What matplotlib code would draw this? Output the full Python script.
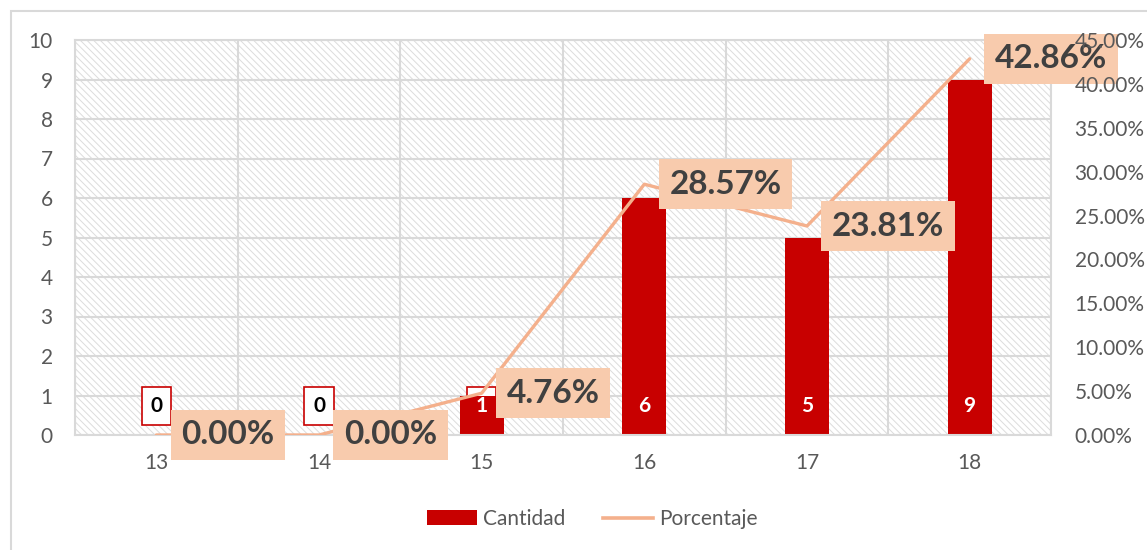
import matplotlib
matplotlib.use("Agg")
import matplotlib.pyplot as plt
from matplotlib.patches import Rectangle
from matplotlib.lines import Line2D
from matplotlib.patches import Patch
import numpy as np

categories = ["13", "14", "15", "16", "17", "18"]
cantidad = [0, 0, 1, 6, 5, 9]
porcentaje = [0.0, 0.0, 4.76, 28.57, 23.81, 42.86]
left_ticks = list(range(0, 11))
right_ticks = [0, 5, 10, 15, 20, 25, 30, 35, 40, 45]

FONT = "Lato"
plt.rcParams["font.family"] = [FONT, "DejaVu Sans"]
plt.rcParams["hatch.color"] = "#dcdcdc"
plt.rcParams["hatch.linewidth"] = 0.7

BAR = "#c80000"
LINE = "#f4b08c"
LBLBOX = "#f8cbad"
GRID = "#d9d9d9"
TICK = "#595959"

fig = plt.figure(figsize=(11.47, 5.5), dpi=100)
fig.patches.append(Rectangle((11 / 1147, -0.1), 1.2, (1 - 11 / 550) + 0.1,
                             transform=fig.transFigure, fill=False,
                             edgecolor=GRID, lw=1.5))

ax = fig.add_axes([75 / 1147, 1 - 435 / 550, (1051 - 75) / 1147, (435 - 40) / 550])
x = np.arange(len(categories))

ax.set_facecolor("white")
ax.patch.set_hatch("\\\\\\\\\\")
ax.patch.set_edgecolor("#dcdcdc")

ax.set_xlim(-0.5, len(categories) - 0.5)
ax.set_ylim(0, 10)
ax.set_yticks(left_ticks)
ax.set_xticks(x)
ax.set_xticklabels(categories)
ax.set_xticks(np.arange(len(categories) + 1) - 0.5, minor=True)
ax.grid(axis="y", which="major", color=GRID, lw=1.5, zorder=0.5)
ax.grid(axis="x", which="minor", color=GRID, lw=1.5, zorder=0.5)
ax.set_axisbelow(True)
for s in ax.spines.values():
    s.set_color(GRID)
    s.set_linewidth(1.5)
ax.tick_params(axis="both", which="both", length=0, colors=TICK, labelsize=15)
ax.tick_params(axis="y", pad=16)
ax.tick_params(axis="x", pad=13)

ax.bar(x, cantidad, width=0.27, color=BAR, zorder=2)

for xi, v in zip(x, cantidad):
    # box (behind bar)
    ax.text(xi, 0.74, str(v), ha="center", va="center", fontsize=15,
            fontweight="bold", color="none", zorder=1.5,
            bbox=dict(boxstyle="square,pad=0.42", facecolor="white",
                      edgecolor=BAR, lw=1.2))
    ax.text(xi, 0.74, str(v), ha="center", va="center", fontsize=15,
            fontweight="bold", color=("black" if v == 0 else "white"), zorder=3)

ax2 = ax.twinx()
ax2.set_ylim(0, 45)
ax2.set_yticks(right_ticks)
ax2.set_yticklabels([f"{t:.2f}%" for t in right_ticks])
ax2.tick_params(axis="y", length=0, colors=TICK, labelsize=15, pad=17)
ax2.yaxis.set_zorder(3)
for s in ax2.spines.values():
    s.set_visible(False)
ax2.patch.set_visible(False)

ax2.plot(x, porcentaje, color=LINE, lw=2.4, zorder=2, solid_capstyle="round")
for xi, p in zip(x, porcentaje):
    ax2.annotate(f"{p:.2f}%", (xi, p), xytext=(25, 0), textcoords="offset pixels",
                 ha="left", va="center", fontsize=24, fontweight="bold",
                 color="#404040", zorder=2.5, annotation_clip=False,
                 bbox=dict(boxstyle="square,pad=0.32", facecolor=LBLBOX,
                           edgecolor="none"))

handles = [Patch(facecolor=BAR, edgecolor="none"),
           Line2D([0], [0], color=LINE, lw=2.6)]
fig.legend(handles, ["Cantidad", "Porcentaje"], loc="center",
           bbox_to_anchor=(592 / 1147, 1 - 519 / 550), ncol=2, frameon=False,
           fontsize=15, labelcolor=TICK, handlelength=2.4, columnspacing=1.8,
           handletextpad=0.3)

fig.savefig("out.png", dpi=100)
